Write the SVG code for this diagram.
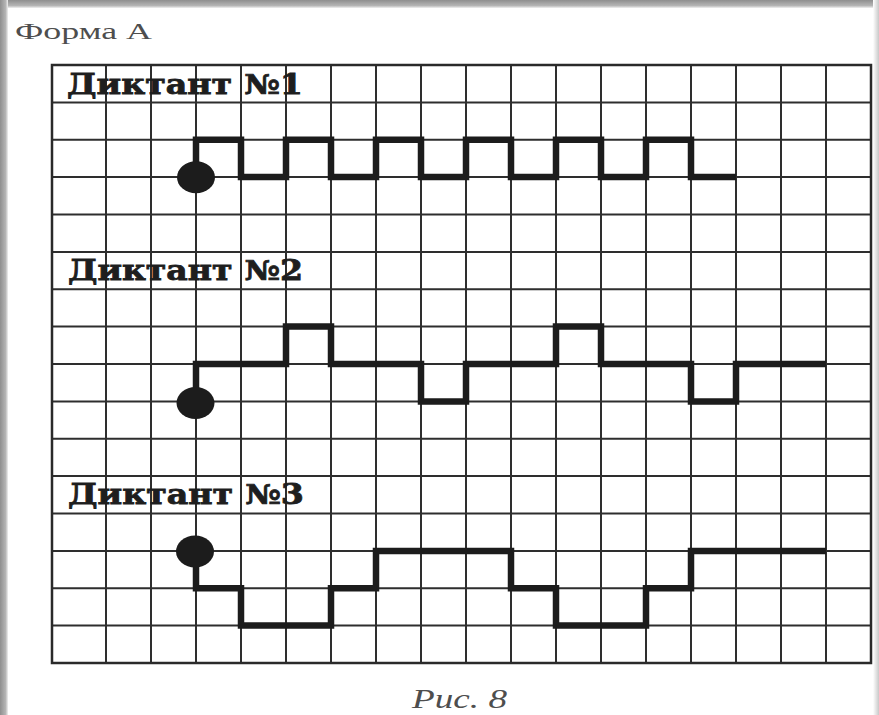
<svg xmlns="http://www.w3.org/2000/svg" width="879" height="715" viewBox="0 0 879 715">
  <defs>
    <linearGradient id="gTop" x1="0" y1="0" x2="0" y2="1">
      <stop offset="0" stop-color="#8f8f8f"/>
      <stop offset="0.7" stop-color="#b5b5b5"/>
      <stop offset="1" stop-color="#f0f0f0"/>
    </linearGradient>
    <linearGradient id="gLeft" x1="0" y1="0" x2="1" y2="0">
      <stop offset="0" stop-color="#8f8f8f"/>
      <stop offset="0.7" stop-color="#b5b5b5"/>
      <stop offset="1" stop-color="#f0f0f0"/>
    </linearGradient>
    <linearGradient id="gRight" x1="1" y1="0" x2="0" y2="0">
      <stop offset="0" stop-color="#c8c8c8"/>
      <stop offset="1" stop-color="#ffffff"/>
    </linearGradient>
  </defs>
  <style>
    .grid { fill: none; stroke: #2e2e2e; stroke-width: 2; }
    .frame { fill: none; stroke: #2a2a2a; stroke-width: 2.5; }
    .signal { fill: none; stroke: #1c1c1c; stroke-width: 6.5; stroke-linejoin: miter; stroke-linecap: butt; }
    .dot { fill: #1c1c1c; }
    .title { font-family: "DejaVu Serif", "Liberation Serif", serif; font-weight: bold; font-size: 27px; fill: #1e1e1e; stroke: #1e1e1e; stroke-width: 0.8; }
    .caption { font-family: "Liberation Serif", "DejaVu Serif", serif; fill: #4e4e4e; }
  </style>

  <rect x="0" y="0" width="879" height="715" fill="#ffffff"/>
  <rect x="0" y="0" width="879" height="8" fill="url(#gTop)"/>
  <rect x="0" y="0" width="8" height="715" fill="url(#gLeft)"/>
  <rect x="873" y="0" width="6" height="715" fill="url(#gRight)"/>

  <text class="caption" x="15" y="39" font-size="24" textLength="137" lengthAdjust="spacingAndGlyphs">Форма А</text>

  <g id="grid">
    <path class="grid" d="M52,102.4 H871 M52,139.75 H871 M52,177.1 H871 M52,214.5 H871 M52,251.9 H871 M52,289.25 H871 M52,326.6 H871 M52,364 H871 M52,401.4 H871 M52,438.75 H871 M52,476.1 H871 M52,513.5 H871 M52,550.9 H871 M52,588.25 H871 M52,625.6 H871
      M106,65 V663 M151,65 V663 M196,65 V663 M241,65 V663 M286,65 V663 M331,65 V663 M376,65 V663 M421,65 V663 M466,65 V663 M511,65 V663 M556,65 V663 M601,65 V663 M646,65 V663 M691,65 V663 M736,65 V663 M781,65 V663 M826,65 V663"/>
    <rect class="frame" x="52" y="65" width="819" height="598"/>
  </g>

  <g id="dictation1">
    <text class="title" x="67" y="93.5" textLength="236" lengthAdjust="spacingAndGlyphs">Диктант №1</text>
  </g>
  <g id="dictation2">
    <text class="title" x="68" y="279.5" textLength="235" lengthAdjust="spacingAndGlyphs">Диктант №2</text>
  </g>
  <g id="dictation3">
    <text class="title" x="68" y="504" textLength="236" lengthAdjust="spacingAndGlyphs">Диктант №3</text>
  </g>

  <g id="connectors">
    <path class="signal" d="M196,177.1 V139.75 H241 V177.1 H286 V139.75 H331 V177.1 H376 V139.75 H421 V177.1 H466 V139.75 H511 V177.1 H556 V139.75 H601 V177.1 H646 V139.75 H691 V177.1 H736"/>
    <path class="signal" d="M196,401.4 V364 H286 V326.6 H331 V364 H421 V401.4 H466 V364 H556 V326.6 H601 V364 H691 V401.4 H736 V364 H826"/>
    <path class="signal" d="M196,550.9 V588.25 H241 V625.6 H331 V588.25 H376 V550.9 H511 V588.25 H556 V625.6 H646 V588.25 H691 V550.9 H826"/>
  </g>

  <g id="start-dots">
    <ellipse class="dot" cx="196" cy="177.3" rx="19" ry="16"/>
    <ellipse class="dot" cx="195.5" cy="403" rx="19" ry="16"/>
    <ellipse class="dot" cx="195" cy="551.5" rx="19" ry="16"/>
  </g>

  <text class="caption" x="412" y="708" font-size="27" font-style="italic" textLength="95" lengthAdjust="spacingAndGlyphs">Рис. 8</text>
</svg>
